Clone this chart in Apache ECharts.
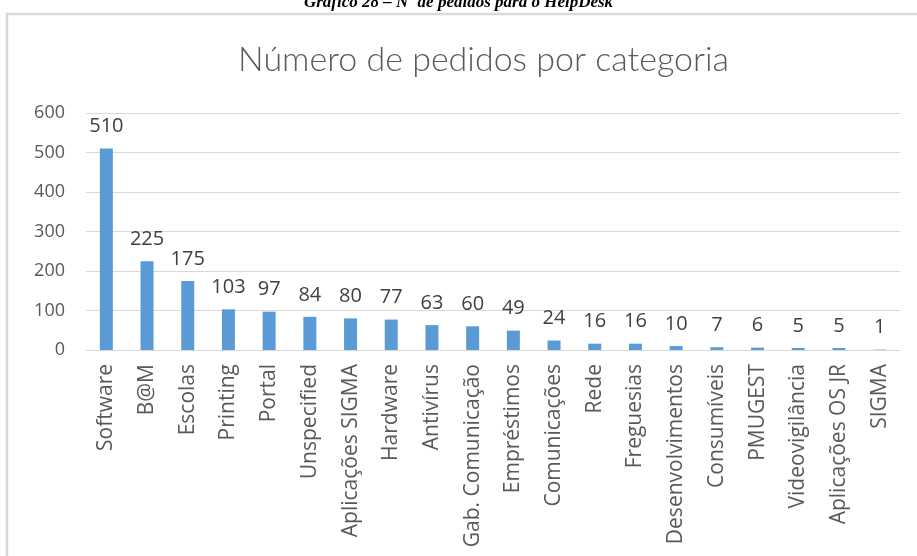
<!DOCTYPE html>
<html><head><meta charset="utf-8">
<script src="https://cdn.jsdelivr.net/npm/echarts@6/dist/echarts.min.js"></script>
<style>html,body{margin:0;padding:0;background:#fff}#c{width:917px;height:556px}</style>
</head><body><div id="c"></div>
<script>
const categories = ["Software","B@M","Escolas","Printing","Portal","Unspecified","Aplicações SIGMA","Hardware","Antivírus","Gab. Comunicação","Empréstimos","Comunicações","Rede","Freguesias","Desenvolvimentos","Consumíveis","PMUGEST","Videovigilância","Aplicações OS JR","SIGMA"];
const pedidos = [510,225,175,103,97,84,80,77,63,60,49,24,16,16,10,7,6,5,5,1];
const chartTitle = "Número de pedidos por categoria";
const caption = "Gráfico 28 – Nº de pedidos para o HelpDesk";

const chart = echarts.init(document.getElementById('c'), null, {renderer:'canvas'});
chart.setOption({
  backgroundColor:'#fff',
  animation:false,
  graphic:[
    {type:'rect', shape:{x:7,y:14,width:940,height:560}, style:{fill:'none',stroke:'#d9d9d9',lineWidth:2.5}, z:0},
    {type:'text', left:'center', top:-6, style:{text:caption, font:'italic bold 17px "Liberation Serif"', fill:'#000'}}
  ],
  title:{text:chartTitle, left:233, top:38, textStyle:{fontFamily:'Lato', fontWeight:300, fontSize:34, color:'#595959'}},
  grid:{left:86, right:17, top:113, bottom:206, containLabel:false},
  xAxis:{type:'category', data:categories,
    axisLine:{lineStyle:{color:'#d9d9d9', width:1}}, axisTick:{show:false},
    axisLabel:{rotate:90, interval:0, margin:14, fontFamily:'Open Sans', fontSize:21, color:'#595959'}},
  yAxis:{type:'value', min:0, max:600, interval:100,
    axisLine:{show:false}, axisTick:{show:false},
    splitLine:{lineStyle:{color:'#d9d9d9', width:1}},
    axisLabel:{margin:21, fontFamily:'Open Sans', fontSize:18, color:'#595959'}},
  series:[{type:'bar', data:pedidos, barWidth:13, itemStyle:{color:'#5b9bd5'},
    label:{show:true, position:'top', distance:12, fontFamily:'Open Sans', fontSize:20, color:'#404040'}}]
});
</script></body></html>
